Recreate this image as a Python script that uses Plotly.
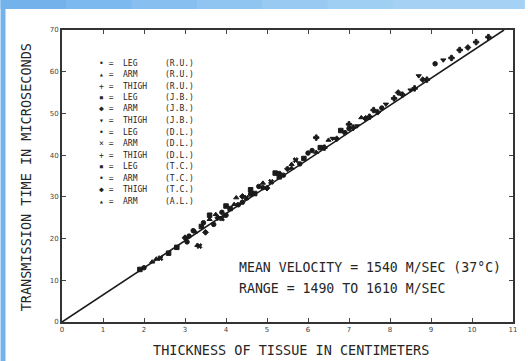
import plotly.graph_objects as go

# ---------------- data ----------------
x_range = [0, 11]
y_range = [0, 70]
x_ticks = list(range(0, 12))
y_ticks = list(range(0, 80, 10))

mean_velocity = 1540.0  # m/s -> transmission time line (µs per cm = 1e4 / v)

series_names = ["LEG", "ARM", "THIGH", "LEG", "ARM", "THIGH",
                "LEG", "ARM", "THIGH", "LEG", "ARM", "THIGH", "ARM"]
series_subjects = ["(R.U.)", "(R.U.)", "(R.U.)", "(J.B.)", "(J.B.)", "(J.B.)",
                   "(D.L.)", "(D.L.)", "(D.L.)", "(T.C.)", "(T.C.)", "(T.C.)", "(A.L.)"]
series_symbols = ["circle", "triangle-up", "cross", "square", "diamond", "triangle-down",
                  "circle", "x", "cross", "square", "circle", "diamond", "triangle-up"]
legend_glyphs = ["•", "▴", "+", "▪", "◆", "▾", "•", "×", "+", "▪", "•", "◆", "▴"]

series_x = [
    [2.0, 3.1, 3.9, 4.6, 5.3, 6.1, 7.0, 7.8, 9.1],
    [2.3, 3.3, 3.6, 4.2, 4.9, 5.6, 6.5, 7.3],
    [6.2, 7.1, 7.6, 8.3, 8.9, 9.7, 10.1, 10.4],
    [2.6, 3.4, 4.0, 4.7, 5.2, 5.9, 6.8],
    [3.0, 3.5, 3.8, 4.4, 5.0, 5.5],
    [6.6, 7.2, 7.9, 8.5, 8.7, 9.3],
    [3.2, 3.7, 4.3, 4.8, 5.4, 6.0, 6.9],
    [2.4, 3.35, 3.9, 4.5, 5.1, 5.7],
    [6.4, 7.0, 7.5, 8.1, 8.6, 9.5],
    [1.9, 2.8, 3.6, 4.1, 4.6, 5.3, 6.3],
    [3.05, 3.45, 4.0, 4.4, 4.9, 5.8],
    [6.7, 7.4, 7.7, 8.2, 8.8, 9.9],
    [2.2, 3.25, 3.75, 4.25, 5.6, 6.2],
]
series_y = [
    [13.0, 20.6, 26.3, 30.7, 35.6, 41.1, 46.4, 51.3, 61.9],
    [15.1, 18.4, 24.6, 28.2, 33.3, 36.9, 43.6, 49.0],
    [44.2, 46.6, 50.8, 54.5, 58.1, 65.2, 67.1, 68.3],
    [16.5, 22.9, 27.8, 30.8, 35.7, 39.2, 45.9],
    [20.2, 21.5, 25.0, 30.1, 32.1, 36.7],
    [44.0, 47.0, 52.2, 55.6, 59.0, 62.8],
    [21.9, 23.4, 28.1, 32.5, 35.2, 40.5, 45.4],
    [15.3, 18.2, 24.8, 29.8, 33.6, 38.8],
    [41.8, 47.4, 49.2, 53.6, 56.0, 63.3],
    [12.6, 17.9, 25.6, 27.2, 31.7, 34.8, 41.8],
    [19.2, 23.8, 25.6, 28.7, 32.2, 37.9],
    [43.9, 48.8, 50.3, 55.0, 58.1, 65.8],
    [14.4, 21.6, 25.8, 29.8, 37.8, 40.7],
]

note_lines = ["MEAN VELOCITY = 1540 M/SEC (37°C)", "RANGE = 1490 TO 1610 M/SEC"]
x_title = "THICKNESS OF TISSUE IN CENTIMETERS"
y_title = "TRANSMISSION TIME IN MICROSECONDS"

# ---------------- figure ----------------
W, H = 528, 361
L, R, T, B = 62, 11, 30, 39
pw, ph = W - L - R, H - T - B
FONT = "DejaVu Sans Mono"
INK = "#262626"

def px_x(p):
    return (p - L) / pw

def px_y(p):
    return (H - B - p) / ph

fig = go.Figure()

# mean velocity line
slope = 1e4 / mean_velocity
x_end = y_range[1] / slope
fig.add_trace(go.Scatter(x=[0, x_end], y=[0, slope * x_end], mode="lines",
                         line=dict(color="#1a1a1a", width=1.6), showlegend=False,
                         hoverinfo="skip"))

for xs, ys, sym, nm, sb in zip(series_x, series_y, series_symbols, series_names, series_subjects):
    fig.add_trace(go.Scatter(x=xs, y=ys, mode="markers", name=f"{nm} {sb}",
                             marker=dict(symbol=sym, size=4.5, color="#1a1a1a",
                                         line=dict(color="#1a1a1a", width=1)),
                             showlegend=False))

anns = []
# legend as text
row0, dy = 63, 11.5
for i, (g, nm, sb) in enumerate(zip(legend_glyphs, series_names, series_subjects)):
    yy = px_y(row0 + i * dy)
    common = dict(xref="paper", yref="paper", y=yy, showarrow=False, yanchor="middle",
                  font=dict(family=FONT, size=8, color=INK))
    anns.append(dict(text=g + " =", x=px_x(97), xanchor="left", **common))
    anns.append(dict(text=nm, x=px_x(122), xanchor="left", **common))
    anns.append(dict(text=sb, x=px_x(164), xanchor="left", **common))

for j, t in enumerate(note_lines):
    anns.append(dict(text=t, xref="paper", yref="paper", x=px_x(239), y=px_y(267 + j * 21),
                     xanchor="left", yanchor="middle", showarrow=False,
                     font=dict(family=FONT, size=13.2, color=INK)))

anns.append(dict(text=x_title, xref="paper", yref="paper", x=px_x(293), y=px_y(350),
                 xanchor="center", yanchor="middle", showarrow=False,
                 font=dict(family=FONT, size=13.5, color=INK)))
anns.append(dict(text=y_title, xref="paper", yref="paper", x=px_x(26), y=px_y(177),
                 xanchor="center", yanchor="middle", showarrow=False, textangle=-90,
                 font=dict(family=FONT, size=13.5, color=INK)))

# slide background bands (blue gradient strips at top and left edge)
shapes = []
top_cols = ["#74b2ec", "#7cb9ee", "#86bff0", "#90c5f1", "#98caf2", "#a0cff4",
            "#a4d1f4", "#a4d1f4"]
n = len(top_cols)
for k, c in enumerate(top_cols):
    shapes.append(dict(type="rect", xref="paper", yref="paper", layer="below",
                       x0=px_x(k * W / n), x1=px_x((k + 1) * W / n + 1),
                       y0=px_y(9), y1=px_y(0), fillcolor=c, line=dict(width=0)))
shapes.append(dict(type="rect", xref="paper", yref="paper", layer="below",
                   x0=px_x(0), x1=px_x(5), y0=px_y(H), y1=px_y(0),
                   fillcolor="#74b2ec", line=dict(width=0)))

axis_common = dict(showgrid=False, zeroline=False, showline=True, mirror="ticks",
                   linecolor="#333", linewidth=2, ticks="inside", ticklen=4,
                   tickcolor="#444", tickwidth=1,
                   tickfont=dict(family="DejaVu Sans", size=7, color="#444"))

fig.update_layout(
    width=W, height=H, margin=dict(l=L, r=R, t=T, b=B),
    paper_bgcolor="white", plot_bgcolor="white",
    xaxis=dict(range=x_range, tickvals=x_ticks, **axis_common),
    yaxis=dict(range=y_range, tickvals=y_ticks, **axis_common),
    annotations=anns, shapes=shapes, showlegend=False,
)

fig.write_html("out.html")
